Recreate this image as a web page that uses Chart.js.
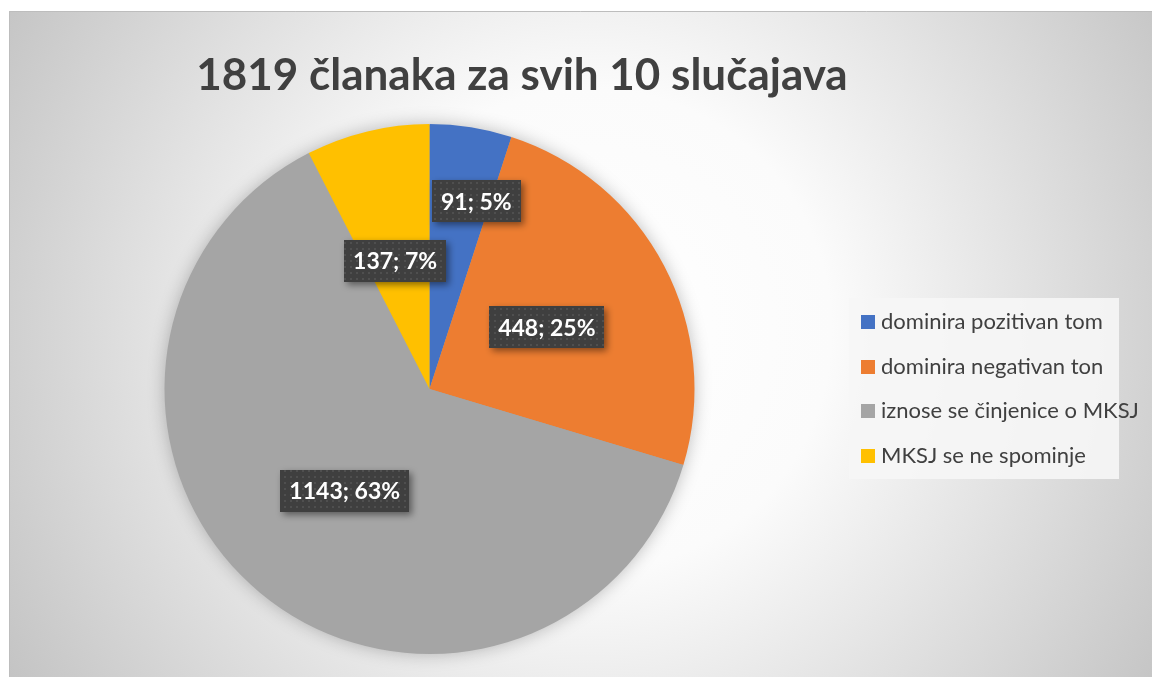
<!DOCTYPE html>
<html><head><meta charset="utf-8">
<script src="https://cdn.jsdelivr.net/npm/chart.js@4.4.1/dist/chart.umd.min.js"></script>
<style>html,body{margin:0;padding:0;background:#fff;overflow:hidden}#wrap{width:1152px;height:677px;position:relative}</style>
</head><body><div id="wrap"><canvas id="c" width="1152" height="677"></canvas></div>
<script>
const TITLE = '1819 članaka za svih 10 slučajava';
const categories = ['dominira pozitivan tom', 'dominira negativan ton', 'iznose se činjenice o MKSJ', 'MKSJ se ne spominje'];
const counts = [91, 448, 1143, 137];
const percentLabels = ['5%', '25%', '63%', '7%'];
const colors = ['#4472C4', '#ED7D31', '#A5A5A5', '#FFC000'];

// label placement style (radial fraction of radius, angle nudge in degrees)
const labelRadial = [0.73, 0.5, 0.5, 0.5];
const labelNudgeDeg = [5, 0, 0, -1.5];

const FONT = 'Lato, "Open Sans", sans-serif';
const FRAME = {x: 9, y: 11};

function makePattern(ctx) {
  const p = document.createElement('canvas');
  p.width = 6; p.height = 6;
  const c = p.getContext('2d');
  c.fillStyle = '#3f3f3f'; c.fillRect(0, 0, 6, 6);
  c.fillStyle = '#4f4f4f'; c.fillRect(2, 2, 2, 2);
  return ctx.createPattern(p, 'repeat');
}

const bgPlugin = {
  id: 'bg',
  beforeDraw(chart) {
    const ctx = chart.ctx, W = chart.width, H = chart.height;
    ctx.save();
    ctx.fillStyle = '#ffffff'; ctx.fillRect(0, 0, W, H);
    const cx = 590, cy = 330;
    const g = ctx.createRadialGradient(cx, cy, 0, cx, cy, 690);
    g.addColorStop(0, '#ffffff');
    g.addColorStop(0.35, '#fbfbfb');
    g.addColorStop(1, '#c2c2c2');
    ctx.fillStyle = g;
    ctx.fillRect(FRAME.x, FRAME.y, W - FRAME.x, H - FRAME.y);
    ctx.strokeStyle = '#bdbdbd'; ctx.lineWidth = 1;
    ctx.beginPath();
    ctx.moveTo(FRAME.x + 0.5, H); ctx.lineTo(FRAME.x + 0.5, FRAME.y + 0.5); ctx.lineTo(W, FRAME.y + 0.5);
    ctx.stroke();
    // title
    ctx.fillStyle = '#404040';
    ctx.font = 'bold 44px ' + FONT;
    ctx.textAlign = 'center'; ctx.textBaseline = 'middle';
    ctx.fillText(TITLE, 522, 76);
    ctx.restore();
  }
};

const pieShadowPlugin = {
  id: 'pieShadow',
  beforeDatasetsDraw(chart) {
    const arc = chart.getDatasetMeta(0).data[0];
    if (!arc) return;
    const {x, y, outerRadius} = arc.getProps(['x', 'y', 'outerRadius'], true);
    const ctx = chart.ctx;
    ctx.save();
    ctx.shadowColor = 'rgba(0,0,0,0.28)';
    ctx.shadowBlur = 18;
    ctx.fillStyle = '#a5a5a5';
    ctx.beginPath(); ctx.arc(x, y, outerRadius - 1, 0, Math.PI * 2); ctx.fill();
    ctx.restore();
  }
};

const labelPlugin = {
  id: 'sliceLabels',
  afterDatasetsDraw(chart) {
    const ctx = chart.ctx;
    const pat = makePattern(ctx);
    const meta = chart.getDatasetMeta(0);
    ctx.save();
    ctx.font = 'bold 23px ' + FONT;
    meta.data.forEach((arc, i) => {
      const p = arc.getProps(['x', 'y', 'startAngle', 'endAngle', 'outerRadius'], true);
      const mid = (p.startAngle + p.endAngle) / 2 + labelNudgeDeg[i] * Math.PI / 180;
      const r = p.outerRadius * labelRadial[i];
      const lx = p.x + Math.cos(mid) * r, ly = p.y + Math.sin(mid) * r;
      const text = counts[i] + '; ' + percentLabels[i];
      const tw = ctx.measureText(text).width;
      const bw = tw + 18, bh = 42;
      ctx.save();
      ctx.shadowColor = 'rgba(0,0,0,0.45)';
      ctx.shadowBlur = 7; ctx.shadowOffsetX = 3; ctx.shadowOffsetY = 3;
      ctx.fillStyle = pat;
      ctx.fillRect(Math.round(lx - bw / 2), Math.round(ly - bh / 2), Math.round(bw), bh);
      ctx.restore();
      ctx.fillStyle = '#ffffff';
      ctx.textAlign = 'center'; ctx.textBaseline = 'middle';
      ctx.fillText(text, lx, ly + 1);
    });
    ctx.restore();
  }
};

const legendPlugin = {
  id: 'customLegend',
  afterDraw(chart) {
    const ctx = chart.ctx;
    const ds = chart.data.datasets[0];
    ctx.save();
    ctx.fillStyle = 'rgba(246,246,246,0.9)';
    ctx.fillRect(849, 298, 270, 181);
    ctx.font = '22px ' + FONT;
    ctx.textAlign = 'left'; ctx.textBaseline = 'middle';
    chart.data.labels.forEach((lab, i) => {
      const cy = 322 + i * 44.5;
      ctx.fillStyle = ds.backgroundColor[i];
      ctx.fillRect(861, Math.round(cy - 7), 14, 14);
      ctx.fillStyle = '#404040';
      ctx.fillText(lab, 881, cy);
    });
    ctx.restore();
  }
};

new Chart(document.getElementById('c').getContext('2d'), {
  type: 'pie',
  data: {
    labels: categories,
    datasets: [{data: counts, backgroundColor: colors, borderWidth: 0}]
  },
  options: {
    responsive: false,
    animation: false,
    layout: {padding: {left: 164, right: 457, top: 124, bottom: 23}},
    plugins: {legend: {display: false}, tooltip: {enabled: false}, title: {display: false}}
  },
  plugins: [bgPlugin, pieShadowPlugin, labelPlugin, legendPlugin]
});
</script>
</body></html>
